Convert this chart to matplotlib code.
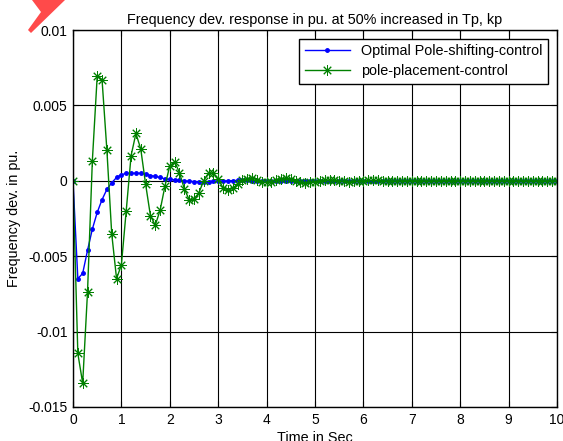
import numpy as np
import matplotlib
matplotlib.use('Agg')
import matplotlib.pyplot as plt
from matplotlib.patches import Polygon

plt.rcParams['font.family'] = ['Liberation Sans', 'DejaVu Sans']

# time axis, sampled every 0.1 s
t = np.arange(0, 101) / 10.0

# Optimal pole-shifting control response
optimal = [0.0, -0.00649, -0.00614, -0.00461, -0.0032, -0.0021, -0.00125, -0.00057, -0.00013, 0.00022,
           0.0004, 0.0005, 0.0005, 0.0005, 0.0005, 0.00044, 0.00035, 0.00029, 0.00022, 0.00013,
           0.00009, 0.00006, 0.00003, 0.0, -0.00003, -0.00005, -0.00006, -0.00006, -0.00005, -0.00004,
           -0.00003, -0.00002, 0.0, 0.00001, 0.00002, 0.00002, 0.00002, 0.00001, 0.0, 0.0,
           -0.00001, -0.00001, -0.00001, 0.0, 0.0, 0.00001, 0.00001, 0.0, 0.0, 0.0,
           0.0, 0.0, 0.0, 0.0, 0.0, 0.0, 0.0, 0.0, 0.0, 0.0,
           0.0, 0.0, 0.0, 0.0, 0.0, 0.0, 0.0, 0.0, 0.0, 0.0,
           0.0, 0.0, 0.0, 0.0, 0.0, 0.0, 0.0, 0.0, 0.0, 0.0,
           0.0, 0.0, 0.0, 0.0, 0.0, 0.0, 0.0, 0.0, 0.0, 0.0,
           0.0, 0.0, 0.0, 0.0, 0.0, 0.0, 0.0, 0.0, 0.0, 0.0, 0.0]

# pole-placement control response
placement = [0.0, -0.01145, -0.01342, -0.00737, 0.00134, 0.00693, 0.00671, 0.00204, -0.00351, -0.00649,
             -0.00557, -0.00197, 0.00167, 0.00314, 0.00211, -0.00022, -0.00232, -0.00294, -0.00195, -0.00035,
             0.00101, 0.00127, 0.00053, -0.00053, -0.00125, -0.0012, -0.0008, 0.0, 0.00052, 0.0005,
             0.0001, -0.00045, -0.00064, -0.0005, -0.0002, 0.00005, 0.00015, 0.0002, 0.00005, -0.0001,
             -0.0001, -0.00005, 0.00008, 0.00015, 0.00018, 0.0001, 0.0, -0.0001, -0.00013, -0.0001,
             -0.00005, 0.0, 0.00004, 0.00006, 0.00004, 0.0, -0.00003, -0.00005, -0.00004, -0.00002,
             0.0, 0.00002, 0.00003, 0.00002, 0.0, -0.00002, -0.00002, -0.00001, 0.0, 0.00001,
             0.00001, 0.00001, 0.0, -0.00001, -0.00001, 0.0, 0.0, 0.00001, 0.0, 0.0,
             0.0, 0.0, 0.0, 0.0, 0.0, 0.0, 0.0, 0.0, 0.0, 0.0,
             0.0, 0.0, 0.0, 0.0, 0.0, 0.0, 0.0, 0.0, 0.0, 0.0, 0.0]

yticks = [-0.015, -0.01, -0.005, 0, 0.005, 0.01]
ytick_labels = ['-0.015', '-0.01', '-0.005', '0', '0.005', '0.01']

fig = plt.figure(figsize=(5.63, 4.41), dpi=100)
ax = fig.add_axes([73 / 563, 1 - 407 / 441, 484 / 563, 377 / 441])

ax.plot(t, optimal, color='#0000ff', marker='.', markersize=5, linewidth=1,
        label='Optimal Pole-shifting-control')
ax.plot(t, placement, color='#008000', marker=(8, 2, 0), markersize=7.5, linewidth=1,
        markeredgewidth=0.7, label='pole-placement-control')

ax.set_xlim(0, 10)
ax.set_ylim(-0.015, 0.01)
ax.set_xticks(range(0, 11))
ax.set_yticks(yticks)
ax.set_yticklabels(ytick_labels)
ax.tick_params(direction='in', top=True, right=True, length=4, labelsize=10, width=0.8, pad=4)
ax.grid(True, color='black', linewidth=0.8)
for s in ax.spines.values():
    s.set_linewidth(1)

ax.set_title('Frequency dev. response in pu. at 50% increased in Tp, kp', fontsize=10.4, pad=4)
ax.set_xlabel('Time in Sec', fontsize=10.4, labelpad=3)
ax.set_ylabel('Frequency dev. in pu.', fontsize=10.4, labelpad=5)

leg = ax.legend(loc='upper right', fontsize=10.4, fancybox=False, edgecolor='black',
                framealpha=1, handlelength=3.1, borderaxespad=0.6, borderpad=0.4,
                labelspacing=0.4)
leg.get_frame().set_linewidth(1)

# red mark in the top-left corner of the picture
mark = Polygon([(32, 0), (65, 0), (31, 33), (28, 30), (41, 12)], closed=True,
               facecolor='#ff4a4a', edgecolor='none', transform=None)
mark.set_xy([(x, 441 - y) for x, y in mark.get_xy()])
fig.patches.append(mark)

fig.savefig('out.png', dpi=100)
